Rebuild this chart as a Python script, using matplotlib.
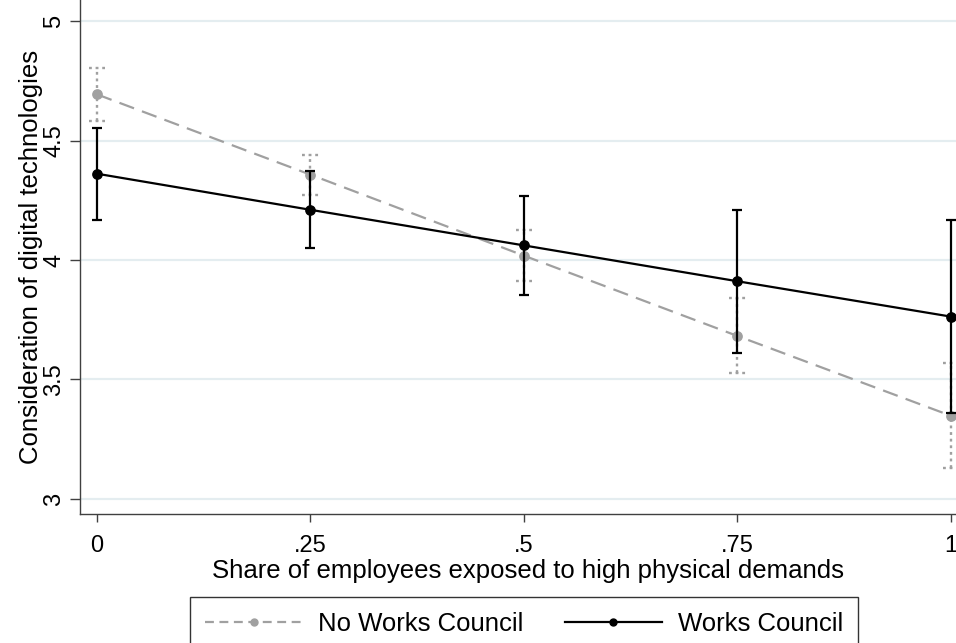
import matplotlib
matplotlib.use("Agg")
import matplotlib.pyplot as plt
from matplotlib.lines import Line2D

plt.rcParams['font.family'] = ['Liberation Sans', 'DejaVu Sans']

# share of employees exposed to high physical demands
share = [0, 0.25, 0.5, 0.75, 1]

# predicted consideration of digital technologies, with 95% CI
no_wc = [4.693, 4.357, 4.018, 3.682, 3.348]
no_wc_lo = [4.580, 4.273, 3.914, 3.525, 3.129]
no_wc_hi = [4.804, 4.438, 4.124, 3.840, 3.567]

wc = [4.361, 4.210, 4.061, 3.911, 3.763]
wc_lo = [4.166, 4.051, 3.854, 3.611, 3.358]
wc_hi = [4.554, 4.371, 4.268, 4.208, 4.168]

xticks = [0, 0.25, 0.5, 0.75, 1]
xticklabels = ['0', '.25', '.5', '.75', '1']
yticks = [3, 3.5, 4, 4.5, 5]
yticklabels = ['3', '3.5', '4', '4.5', '5']

GRAY = '#a0a0a0'
GRID = '#e4edf0'
FS = 18.5     # axis titles, legend
FS_TICK = 17

fig = plt.figure(figsize=(9.56, 6.43), dpi=100)
ax = fig.add_axes([80/956, 129/643, 1 - 80/956, 1 - 129/643])

# grid lines
for yv in yticks:
    ax.axhline(yv, color=GRID, lw=1.6, zorder=0)

# no works council: dotted CI, then dashed line
ax.vlines(share, no_wc_lo, no_wc_hi, color=GRAY, lw=1.7,
          linestyles=[(0, (1.2, 1.6))], zorder=2)
for x, lo, hi in zip(share, no_wc_lo, no_wc_hi):
    for yv in (lo, hi):
        ax.plot([x - 0.0095, x + 0.0095], [yv, yv], color=GRAY, lw=1.7,
                ls=(0, (1.2, 1.6)), zorder=2)
ax.plot(share, no_wc, color=GRAY, lw=1.6, dashes=(7, 3.8), marker='o',
        ms=6.7, mfc=GRAY, mec=GRAY, zorder=3)

# works council
err_lo = [v - l for v, l in zip(wc, wc_lo)]
err_hi = [h - v for v, h in zip(wc, wc_hi)]
ax.errorbar(share, wc, yerr=[err_lo, err_hi], fmt='none', ecolor='black',
            elinewidth=1.6, capsize=3.6, capthick=1.6, zorder=4)
ax.plot(share, wc, color='black', lw=1.6, marker='o', ms=6.7, mfc='black',
        mec='black', zorder=5)

ax.set_xlim(-0.0199, 1.0059)
ax.set_ylim(2.937, 5.088)
ax.set_xticks(xticks)
ax.set_xticklabels(xticklabels)
ax.set_yticks(yticks)
ax.set_yticklabels(yticklabels, rotation=90, va='center')

for side in ('top', 'right'):
    ax.spines[side].set_visible(False)
for side in ('left', 'bottom'):
    ax.spines[side].set_color('#404040')
    ax.spines[side].set_linewidth(1.0)

ax.tick_params(axis='both', labelsize=FS_TICK, width=1.0, color='#404040')
ax.tick_params(axis='x', length=6, pad=9)
ax.tick_params(axis='y', length=7, pad=3.6)

ax.set_xlabel('Share of employees exposed to high physical demands', fontsize=FS)
ax.xaxis.set_label_coords(0.511, -0.088)
ax.xaxis.label.set_va('top')
ax.set_ylabel('Consideration of digital technologies', fontsize=FS, labelpad=0)

handles = [
    Line2D([], [], color=GRAY, lw=1.6, dashes=(4, 2.5), marker='o', ms=5,
           mfc=GRAY, mec=GRAY),
    Line2D([], [], color='black', lw=1.6, marker='o', ms=5, mfc='black', mec='black'),
]
leg = fig.legend(handles, ['No Works Council', 'Works Council'], loc='upper center',
                 bbox_to_anchor=(524/956, 1 - 597/643), ncol=2, fontsize=FS,
                 frameon=True, fancybox=False, edgecolor='black',
                 handlelength=3.8, handletextpad=0.6, columnspacing=1.6,
                 borderpad=0.6, borderaxespad=0)
leg.get_frame().set_linewidth(1.0)

fig.savefig('out.png', dpi=100)
